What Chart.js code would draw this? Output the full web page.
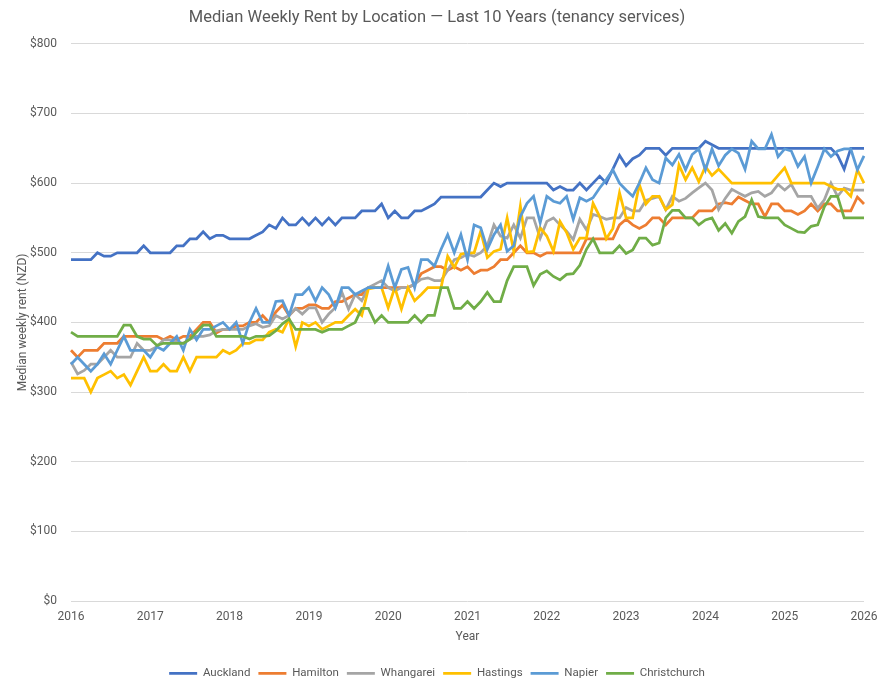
<!DOCTYPE html>
<html>
<head>
<meta charset="utf-8">
<title>Median Weekly Rent by Location</title>
<script src="https://cdn.jsdelivr.net/npm/chart.js@4.4.1/dist/chart.umd.min.js"></script>
<style>
  html, body { margin: 0; padding: 0; background: #ffffff; }
  #wrap { width: 878px; height: 689px; }
</style>
</head>
<body>
<div id="wrap"><canvas id="rentChart"></canvas></div>
<script>
// tick labels on the x axis (one per January)
const years = [2016, 2017, 2018, 2019, 2020, 2021, 2022, 2023, 2024, 2025, 2026];

// monthly categories, Jan 2016 .. Jan 2026
const months = [];
years.forEach(function (y, i) {
    const last = i === years.length - 1;
    for (let m = 1; m <= (last ? 1 : 12); m++) {
        months.push(y + '-' + String(m).padStart(2, '0'));
    }
});

// median weekly rent, NZD
const auckland = [
    490, 490, 490, 490, 500, 495, 495, 500, 500, 500,
    500, 510, 500, 500, 500, 500, 510, 510, 520, 520,
    530, 520, 525, 525, 520, 520, 520, 520, 525, 530,
    540, 535, 550, 540, 540, 550, 540, 550, 540, 550,
    540, 550, 550, 550, 560, 560, 560, 570, 550, 560,
    550, 550, 560, 560, 565, 570, 580, 580, 580, 580,
    580, 580, 580, 590, 600, 595, 600, 600, 600, 600,
    600, 600, 600, 590, 595, 590, 590, 600, 590, 600,
    610, 600, 620, 640, 625, 635, 640, 650, 650, 650,
    640, 650, 650, 650, 650, 650, 660, 655, 650, 650,
    650, 650, 650, 650, 650, 650, 650, 650, 650, 650,
    650, 650, 650, 650, 650, 650, 640, 620, 650, 650,
    650
];
const hamilton = [
    360, 350, 360, 360, 360, 370, 370, 370, 380, 380,
    380, 380, 380, 380, 375, 380, 375, 380, 380, 390,
    400, 400, 385, 390, 390, 395, 395, 400, 400, 410,
    400, 415, 425, 410, 420, 420, 425, 425, 420, 420,
    430, 430, 435, 440, 440, 450, 450, 450, 450, 450,
    450, 450, 455, 470, 475, 480, 480, 475, 480, 475,
    480, 470, 475, 475, 480, 490, 490, 500, 510, 500,
    500, 495, 500, 500, 500, 500, 500, 500, 520, 520,
    520, 520, 520, 540, 548, 540, 535, 540, 550, 550,
    540, 550, 550, 550, 550, 560, 560, 560, 570, 572,
    570, 580, 575, 570, 570, 552, 570, 570, 560, 560,
    555, 560, 570, 560, 570, 570, 560, 560, 560, 580,
    570
];
const whangarei = [
    343, 326, 331, 340, 340, 350, 360, 350, 350, 350,
    370, 360, 360, 365, 375, 375, 372, 370, 376, 380,
    380, 382, 388, 390, 390, 390, 390, 395, 398, 393,
    395, 410, 405, 410, 420, 412, 421, 421, 400, 412,
    421, 443, 419, 440, 431, 450, 455, 460, 450, 445,
    450, 450, 455, 462, 464, 460, 460, 475, 490, 493,
    498, 495, 500, 510, 540, 524, 521, 540, 521, 550,
    550, 521, 545, 550, 540, 531, 519, 548, 533, 555,
    552, 548, 550, 550, 565, 560, 560, 575, 578, 581,
    562, 581, 574, 578, 586, 593, 600, 590, 562, 578,
    591, 586, 581, 586, 588, 581, 586, 598, 590, 598,
    581, 581, 581, 564, 576, 600, 581, 593, 590, 590,
    590
];
const hastings = [
    320, 320, 320, 300, 320, 325, 330, 320, 325, 310,
    330, 350, 330, 330, 340, 330, 330, 350, 330, 350,
    350, 350, 350, 360, 355, 360, 370, 370, 375, 375,
    386, 390, 386, 405, 365, 400, 395, 400, 390, 395,
    400, 400, 410, 419, 410, 448, 450, 450, 421, 450,
    419, 450, 431, 440, 450, 450, 450, 495, 479, 498,
    500, 500, 531, 493, 502, 505, 550, 502, 567, 501,
    502, 536, 524, 502, 545, 529, 505, 521, 521, 571,
    552, 520, 535, 586, 550, 550, 598, 570, 581, 581,
    562, 569, 626, 605, 622, 602, 624, 611, 620, 610,
    600, 600, 600, 600, 600, 600, 600, 611, 622, 600,
    600, 600, 600, 600, 600, 595, 591, 591, 581, 619,
    600
];
const napier = [
    340, 350, 340, 330, 340, 355, 340, 360, 380, 360,
    360, 360, 350, 365, 360, 370, 380, 360, 390, 375,
    390, 390, 395, 400, 390, 400, 370, 400, 420, 400,
    400, 430, 431, 410, 440, 440, 450, 431, 450, 440,
    421, 450, 450, 440, 445, 450, 450, 450, 481, 450,
    476, 479, 450, 490, 490, 481, 505, 526, 500, 526,
    490, 540, 536, 505, 526, 540, 502, 510, 552, 571,
    581, 543, 581, 574, 571, 581, 548, 579, 574, 579,
    593, 605, 619, 600, 590, 581, 600, 622, 605, 600,
    636, 626, 641, 619, 641, 649, 619, 649, 625, 640,
    649, 643, 620, 660, 649, 649, 670, 638, 649, 646,
    624, 638, 600, 624, 649, 638, 646, 649, 649, 619,
    639
];
const christchurch = [
    386, 380, 380, 380, 380, 380, 380, 380, 396, 396,
    380, 376, 376, 367, 370, 370, 370, 370, 376, 386,
    396, 396, 380, 380, 380, 380, 380, 376, 380, 380,
    381, 388, 398, 405, 390, 390, 390, 390, 386, 390,
    390, 390, 395, 400, 420, 420, 400, 410, 400, 400,
    400, 400, 410, 400, 410, 410, 450, 450, 420, 420,
    430, 420, 430, 443, 430, 430, 460, 480, 480, 480,
    453, 469, 474, 466, 461, 469, 470, 482, 505, 520,
    500, 500, 500, 510, 499, 504, 521, 521, 511, 514,
    550, 561, 561, 550, 550, 540, 547, 550, 532, 542,
    528, 545, 552, 576, 552, 550, 550, 550, 540, 535,
    530, 529, 538, 540, 566, 581, 581, 550, 550, 550,
    550
];

const seriesNames = ['Auckland', 'Hamilton', 'Whangarei', 'Hastings', 'Napier', 'Christchurch'];
const seriesData = [auckland, hamilton, whangarei, hastings, napier, christchurch];
const seriesColors = ['#4472C4', '#ED7D31', '#A5A5A5', '#FFC000', '#5B9BD5', '#70AD47'];

const textColor = '#595959';
Chart.defaults.font.family = "Roboto, 'Open Sans', sans-serif";
Chart.defaults.color = textColor;

const ctxRent = document.getElementById('rentChart').getContext('2d');
const rentChart = new Chart(ctxRent, {
    type: 'line',
    data: {
        labels: months,
        datasets: seriesNames.map(function (name, i) {
            return {
                label: name,
                data: seriesData[i],
                borderColor: seriesColors[i],
                backgroundColor: seriesColors[i],
                borderWidth: 2.75,
                pointRadius: 0,
                tension: 0,
                fill: false,
                // later series sit on top, like the original
                order: seriesNames.length - i
            };
        })
    },
    options: {
        responsive: true,
        maintainAspectRatio: false,
        animation: false,
        layout: {
            padding: { left: 10, right: 14, top: 6, bottom: 0 }
        },
        plugins: {
            title: {
                display: true,
                text: 'Median Weekly Rent by Location \u2014 Last 10 Years (tenancy services)',
                color: textColor,
                font: { size: 16.5, weight: 'normal' },
                padding: { top: 2, bottom: 16 }
            },
            legend: {
                position: 'bottom',
                labels: {
                    usePointStyle: true,
                    pointStyle: 'line',
                    pointStyleWidth: 28,
                    padding: 8,
                    color: textColor,
                    font: { size: 11.5 },
                    sort: function (a, b) { return a.datasetIndex - b.datasetIndex; }
                }
            },
            tooltip: { enabled: false }
        },
        scales: {
            x: {
                type: 'category',
                grid: { display: false, drawTicks: false },
                border: { display: false },
                ticks: {
                    autoSkip: false,
                    maxRotation: 0,
                    minRotation: 0,
                    padding: 9,
                    color: textColor,
                    font: { size: 12 },
                    callback: function (value, index) {
                        const lab = months[index];
                        return lab.endsWith('-01') ? lab.slice(0, 4) : null;
                    }
                },
                title: {
                    display: true,
                    text: 'Year',
                    color: textColor,
                    font: { size: 12 },
                    padding: 15
                },
                afterFit: function (scale) {
                    scale.height = 58.5;
                    scale.paddingRight = 14;
                }
            },
            y: {
                min: 0,
                max: 800,
                grid: { color: '#D9D9D9', lineWidth: 1, drawTicks: false },
                border: { display: false },
                ticks: {
                    stepSize: 100,
                    padding: 14,
                    color: textColor,
                    font: { size: 12 },
                    callback: function (v) { return '$' + v; }
                },
                title: {
                    display: true,
                    text: 'Median weekly rent (NZD)',
                    color: textColor,
                    font: { size: 12 },
                    padding: 6
                },
                afterFit: function (scale) { scale.width = 61; }
            }
        }
    }
});
</script>
</body>
</html>
